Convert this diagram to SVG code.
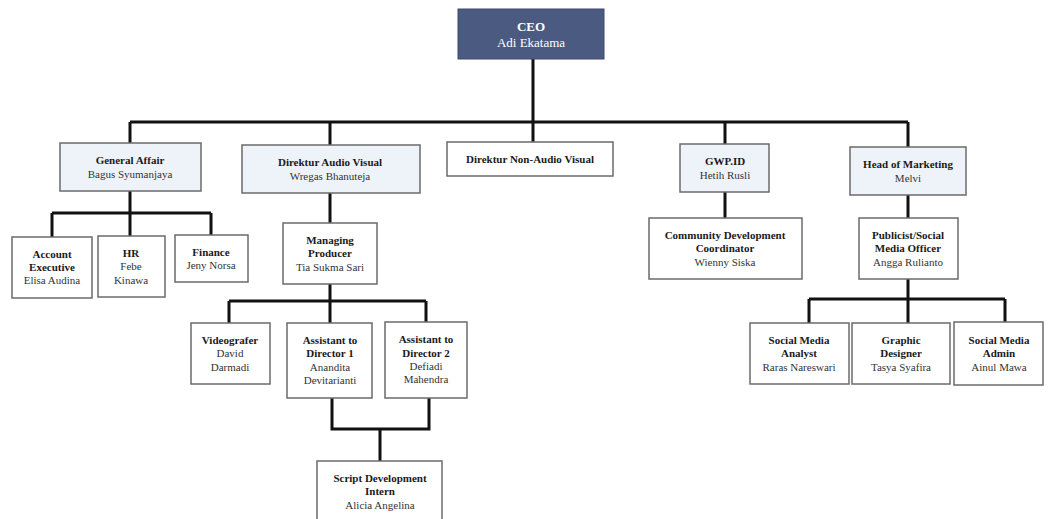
<svg xmlns="http://www.w3.org/2000/svg" width="1048" height="519" viewBox="0 0 1048 519">
<style>
.box{fill:#ffffff;stroke:#6b6b6b;stroke-width:1.5}
.lb{fill:#eef3fa;stroke:#6b6b6b;stroke-width:1.5}
.ceo{fill:#4b5a80;stroke:#3d4a6b;stroke-width:1}
.t{font-family:"Liberation Serif","Times New Roman",serif;font-size:11px;font-weight:bold;fill:#1a1a1a;text-anchor:middle}
.n{font-family:"Liberation Serif","Times New Roman",serif;font-size:11px;fill:#333333;text-anchor:middle}
.w{fill:#ffffff;font-size:13px}
.c{fill:none;stroke:#111111;stroke-width:3}
</style>
<rect width="1048" height="519" fill="#ffffff"/>
<g id="connectors">
<path class="c" d="M533,59 V142 M130,122 H908 M130,122 V143 M330,122 V145 M725,122 V144 M908,122 V147"/>
<path class="c" d="M130,191 V213 M52,213 H211 M52,213 V237 M130,213 V236 M211,213 V235"/>
<path class="c" d="M330,193 V223 M330,284 V323 M229,301 H426 M229,301 V323 M426,301 V322"/>
<path class="c" d="M332,398 V429 H429 V398 M380,429 V461"/>
<path class="c" d="M725,192 V218"/>
<path class="c" d="M908,195 V218 M908,279 V323 M809,299 H1005 M809,299 V323 M1005,299 V322"/>
</g>
<g id="ceo"><rect class="ceo" x="458" y="9" width="146" height="50"/><text class="t w" x="531" y="31">CEO</text><text class="n w" x="531" y="47">Adi Ekatama</text></g>
<g id="general-affair"><rect class="lb" x="60" y="143" width="141" height="48"/><text class="t" x="130" y="164">General Affair</text><text class="n" x="130" y="178">Bagus Syumanjaya</text></g>
<g id="direktur-av"><rect class="lb" x="242" y="145" width="178" height="48"/><text class="t" x="330" y="166">Direktur Audio Visual</text><text class="n" x="330" y="180">Wregas Bhanuteja</text></g>
<g id="direktur-nav"><rect class="box" x="447" y="142" width="166" height="34"/><text class="t" x="530" y="163">Direktur Non-Audio Visual</text></g>
<g id="gwp"><rect class="lb" x="680" y="144" width="89" height="48"/><text class="t" x="725" y="165">GWP.ID</text><text class="n" x="725" y="179">Hetih Rusli</text></g>
<g id="head-marketing"><rect class="lb" x="850" y="147" width="116" height="48"/><text class="t" x="908" y="168">Head of Marketing</text><text class="n" x="908" y="182">Melvi</text></g>
<g id="account-executive"><rect class="box" x="12" y="237" width="80" height="61"/><text class="t" x="52" y="258">Account</text><text class="t" x="52" y="271">Executive</text><text class="n" x="52" y="284">Elisa Audina</text></g>
<g id="hr"><rect class="box" x="98" y="236" width="67" height="61"/><text class="t" x="131" y="257">HR</text><text class="n" x="131" y="270">Febe</text><text class="n" x="131" y="284">Kinawa</text></g>
<g id="finance"><rect class="box" x="175" y="235" width="73" height="47"/><text class="t" x="211" y="256">Finance</text><text class="n" x="211" y="269">Jeny Norsa</text></g>
<g id="managing-producer"><rect class="box" x="283" y="223" width="94" height="61"/><text class="t" x="330" y="244">Managing</text><text class="t" x="330" y="257">Producer</text><text class="n" x="330" y="271">Tia Sukma Sari</text></g>
<g id="videografer"><rect class="box" x="191" y="323" width="79" height="61"/><text class="t" x="230" y="344">Videografer</text><text class="n" x="230" y="357">David</text><text class="n" x="230" y="371">Darmadi</text></g>
<g id="assistant-1"><rect class="box" x="287" y="323" width="85" height="75"/><text class="t" x="330" y="344">Assistant to</text><text class="t" x="330" y="357">Director 1</text><text class="n" x="330" y="371">Anandita</text><text class="n" x="330" y="384">Devitarianti</text></g>
<g id="assistant-2"><rect class="box" x="385" y="322" width="82" height="76"/><text class="t" x="426" y="343">Assistant to</text><text class="t" x="426" y="357">Director 2</text><text class="n" x="426" y="370">Defiadi</text><text class="n" x="426" y="383">Mahendra</text></g>
<g id="script-intern"><rect class="box" x="317" y="461" width="125" height="62"/><text class="t" x="380" y="482">Script Development</text><text class="t" x="380" y="495">Intern</text><text class="n" x="380" y="509">Alicia Angelina</text></g>
<g id="community-dev"><rect class="box" x="649" y="218" width="153" height="61"/><text class="t" x="725" y="239">Community Development</text><text class="t" x="725" y="252">Coordinator</text><text class="n" x="725" y="266">Wienny Siska</text></g>
<g id="publicist"><rect class="box" x="859" y="218" width="99" height="61"/><text class="t" x="908" y="239">Publicist/Social</text><text class="t" x="908" y="252">Media Officer</text><text class="n" x="908" y="266">Angga Rulianto</text></g>
<g id="sm-analyst"><rect class="box" x="750" y="323" width="99" height="61"/><text class="t" x="799" y="344">Social Media</text><text class="t" x="799" y="357">Analyst</text><text class="n" x="799" y="371">Raras Nareswari</text></g>
<g id="graphic-designer"><rect class="box" x="852" y="323" width="98" height="61"/><text class="t" x="901" y="344">Graphic</text><text class="t" x="901" y="357">Designer</text><text class="n" x="901" y="371">Tasya Syafira</text></g>
<g id="sm-admin"><rect class="box" x="954" y="322" width="89" height="63"/><text class="t" x="999" y="344">Social Media</text><text class="t" x="999" y="357">Admin</text><text class="n" x="999" y="371">Ainul Mawa</text></g>
</svg>
